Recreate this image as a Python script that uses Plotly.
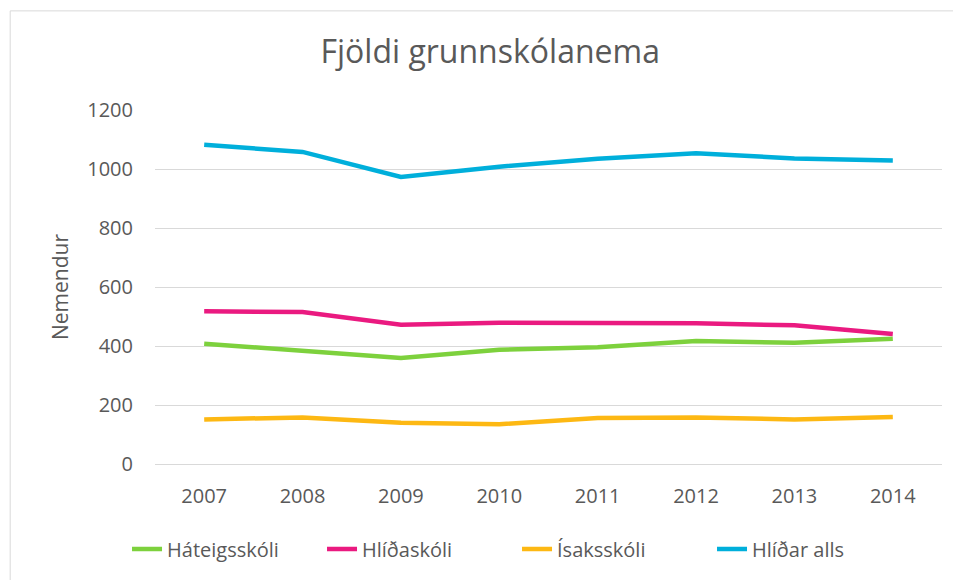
import plotly.graph_objects as go

years = ["2007", "2008", "2009", "2010", "2011", "2012", "2013", "2014"]

hateigsskoli = [408, 382, 359, 387, 396, 417, 411, 425]
hlidaskoli = [518, 515, 472, 479, 478, 477, 470, 441]
isaksskoli = [151, 158, 140, 135, 156, 158, 151, 159]
hlidar_alls = [1082, 1058, 973, 1008, 1035, 1053, 1036, 1029]

series = [
    ("Háteigsskóli", hateigsskoli, "#7DD13D"),
    ("Hlíðaskóli", hlidaskoli, "#EA1A80"),
    ("Ísaksskóli", isaksskoli, "#FDB813"),
    ("Hlíðar alls", hlidar_alls, "#00AFDB"),
]

font_family = "Open Sans, Lato, sans-serif"
grey = "#595959"

fig = go.Figure()
for name, vals, color in series:
    fig.add_trace(go.Scatter(
        x=years, y=vals, mode="lines", name=name,
        line=dict(color=color, width=4.5),
    ))

# the page body has an 8px margin, so the figure is sized to fit the window
fig.update_layout(
    width=953, height=572,
    margin=dict(l=147, r=19, t=102, b=116),
    paper_bgcolor="white", plot_bgcolor="white",
    font=dict(family=font_family, color=grey, size=20),
    title=dict(
        text="Fjöldi grunnskólanema",
        x=0.506, xref="container", xanchor="center",
        y=0.924, yref="container", yanchor="middle",
        font=dict(size=32, color=grey, family=font_family),
    ),
    xaxis=dict(
        type="category", range=[-0.5, 7.5],
        showgrid=False, showline=True, linecolor="#D9D9D9", linewidth=1,
        ticks="", ticklabelstandoff=14,
        tickfont=dict(size=20, color=grey),
    ),
    yaxis=dict(
        range=[0, 1200], dtick=200,
        showgrid=True, gridcolor="#D9D9D9", gridwidth=1,
        zeroline=False, showline=False, ticks="", ticklabelstandoff=21,
        tickfont=dict(size=20, color=grey),
        title=dict(text="Nemendur", font=dict(size=21, color=grey), standoff=12),
    ),
    legend=dict(
        orientation="h", x=0.46, xanchor="center", y=-0.24, yanchor="middle",
        font=dict(size=20, color=grey), entrywidth=150,
        bgcolor="rgba(0,0,0,0)",
    ),
    shapes=[dict(
        type="rect", xref="paper", yref="paper",
        x0=-0.184, x1=1.05, y0=-0.4, y1=1.28,
        line=dict(color="#D9D9D9", width=1), fillcolor="rgba(0,0,0,0)",
        layer="below",
    )],
)

fig.write_html("out.html")
